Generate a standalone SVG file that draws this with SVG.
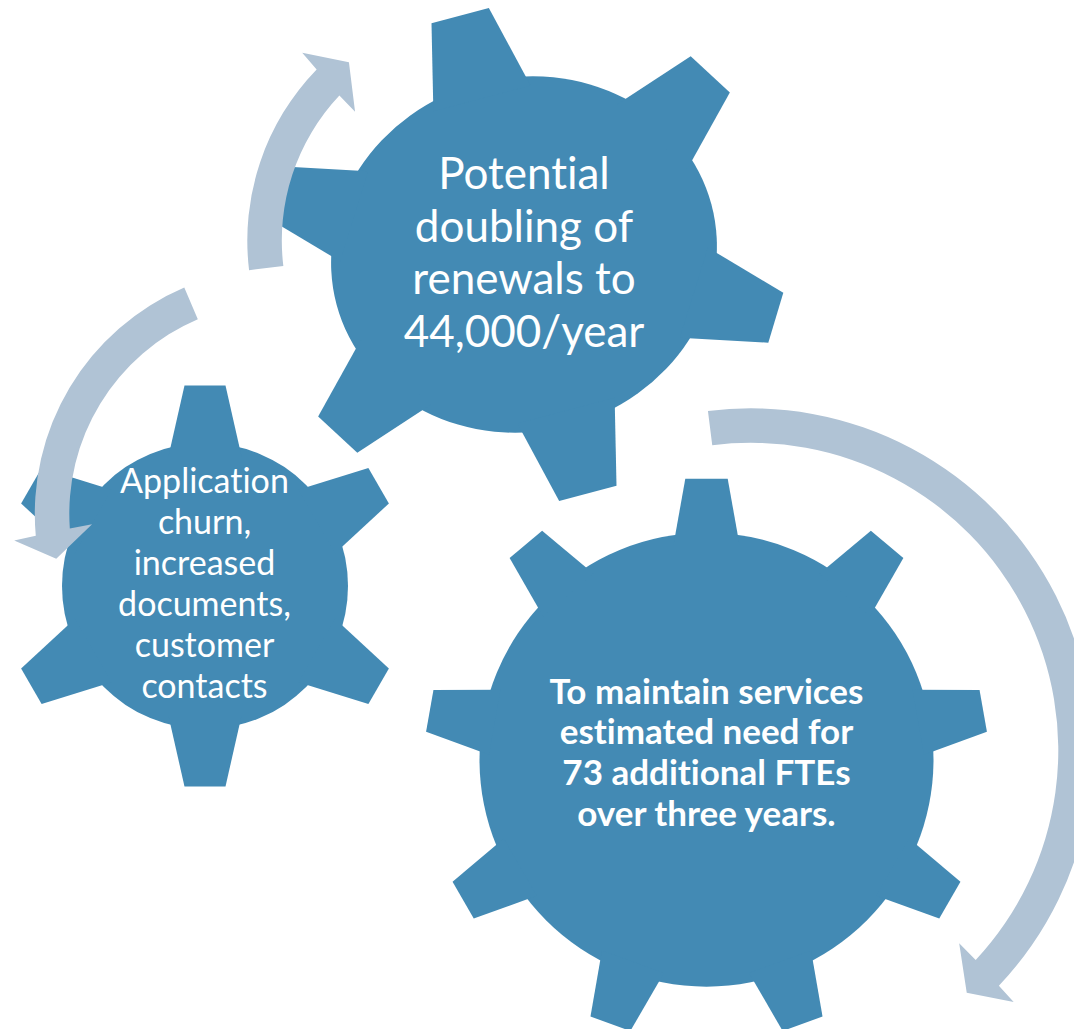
<svg xmlns="http://www.w3.org/2000/svg" xmlns:xlink="http://www.w3.org/1999/xlink" width="1074" height="1029" viewBox="0 0 1074 1029">
  <style>
    .gear { fill: #438AB4; }
    .arrow { fill: #B0C3D5; }
    .label { font-family: Lato, "Liberation Sans", sans-serif; fill: #FFFFFF; text-anchor: middle; font-variant-ligatures: none; font-feature-settings: "liga" 0, "clig" 0, "dlig" 0; }
    .l1 { font-size: 44px; }
    .l2 { font-size: 34px; }
    .l3 { font-size: 35px; font-weight: bold; }
  </style>
  <defs>
    <polygon id="tooth2" points="-36.7,-129 -20.5,-200.5 20.5,-200.5 36.7,-129"/>
    <polygon id="tooth3" points="-33,-215 -21.2,-281 21.2,-281 33,-215"/>
  </defs>
  <rect x="0" y="0" width="1074" height="1029" fill="#FFFFFF"/>

  <g id="gear1" class="gear">
    <ellipse cx="0" cy="0" rx="194" ry="177" transform="translate(524 254.5) rotate(-15)"/>
    <g id="g1teeth">
      <polygon points="433.36,111.2 431.5,23.15 488.85,8 530.6,85.5"/>
      <polygon points="617.35,104.34 690.7,56.15 729.85,92.5 687.44,168.74"/>
      <polygon points="707.91,247.67 783.3,292.7 768.3,342.7 679.87,337.74"/>
    </g>
    <use xlink:href="#g1teeth" href="#g1teeth" transform="rotate(180 524 254.5)"/>
    <text class="label l1" x="524" y="189.3">Potential</text>
    <text class="label l1" x="524" y="241.8">doubling of</text>
    <text class="label l1" x="524" y="294.3">renewals to</text>
    <text class="label l1" x="524" y="346.8">44,000/year</text>
  </g>

  <g id="gear2" class="gear">
    <circle cx="205" cy="586" r="143"/>
    <use xlink:href="#tooth2" href="#tooth2" transform="translate(205 586) rotate(0)"/>
    <use xlink:href="#tooth2" href="#tooth2" transform="translate(205 586) rotate(60)"/>
    <use xlink:href="#tooth2" href="#tooth2" transform="translate(205 586) rotate(120)"/>
    <use xlink:href="#tooth2" href="#tooth2" transform="translate(205 586) rotate(180)"/>
    <use xlink:href="#tooth2" href="#tooth2" transform="translate(205 586) rotate(240)"/>
    <use xlink:href="#tooth2" href="#tooth2" transform="translate(205 586) rotate(300)"/>
    <text class="label l2" x="204.5" y="493.3">Application</text>
    <text class="label l2" x="204.5" y="534.3">churn,</text>
    <text class="label l2" x="204.5" y="575.3">increased</text>
    <text class="label l2" x="204.5" y="616.3">documents,</text>
    <text class="label l2" x="204.5" y="657.3">customer</text>
    <text class="label l2" x="204.5" y="698.3">contacts</text>
  </g>

  <g id="gear3" class="gear">
    <circle cx="706.5" cy="759.7" r="227"/>
    <use xlink:href="#tooth3" href="#tooth3" transform="translate(706.5 759.7) rotate(0)"/>
    <use xlink:href="#tooth3" href="#tooth3" transform="translate(706.5 759.7) rotate(40)"/>
    <use xlink:href="#tooth3" href="#tooth3" transform="translate(706.5 759.7) rotate(80)"/>
    <use xlink:href="#tooth3" href="#tooth3" transform="translate(706.5 759.7) rotate(120)"/>
    <use xlink:href="#tooth3" href="#tooth3" transform="translate(706.5 759.7) rotate(160)"/>
    <use xlink:href="#tooth3" href="#tooth3" transform="translate(706.5 759.7) rotate(200)"/>
    <use xlink:href="#tooth3" href="#tooth3" transform="translate(706.5 759.7) rotate(240)"/>
    <use xlink:href="#tooth3" href="#tooth3" transform="translate(706.5 759.7) rotate(280)"/>
    <use xlink:href="#tooth3" href="#tooth3" transform="translate(706.5 759.7) rotate(320)"/>
    <text class="label l3" x="706.5" y="703.7">To maintain services</text>
    <text class="label l3" x="706.5" y="744.3">estimated need for</text>
    <text class="label l3" x="706.5" y="785">73 additional FTEs</text>
    <text class="label l3" x="706.5" y="825.5">over three years.</text>
  </g>

  <g id="connectors" class="arrow">
    <path id="arrow-a" d="M 249.08,270.15 A 246 246 0 0 1 316.64,69.41 L 302.22,52.83 L 348.93,62.32 L 355.07,111.7 L 339.38,95.55 A 211.5 211.5 0 0 0 283.33,266.01 Z"/>
    <path id="arrow-b" d="M 184.28,287.52 A 246 246 0 0 0 35.77,535.67 L 14.22,540.41 L 56.24,558.67 L 92.09,524.35 L 69.82,528.55 A 211.5 211.5 0 0 1 197.82,319.26 Z"/>
    <path id="arrow-c" d="M 707.94,411.0 A 342 342 0 0 1 998.88,985.72 L 1013.69,1002.06 L 966.73,992.66 L 959.18,943.26 L 975.69,960.02 A 307.5 307.5 0 0 0 712.26,445.23 Z"/>
  </g>
</svg>
